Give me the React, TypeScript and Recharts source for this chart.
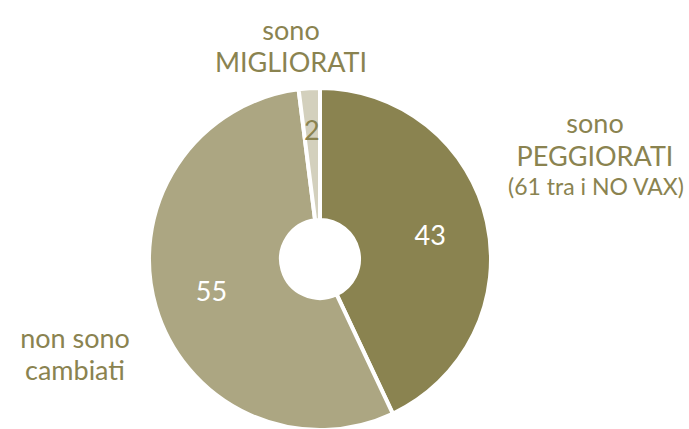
import { PieChart, Pie, Cell } from 'recharts';

const categories = ['sono PEGGIORATI', 'non sono cambiati', 'sono MIGLIORATI'];
const values = [43, 55, 2];
const COLORS = ['#8a8350', '#aca682', '#d3d0bd'];
const LABEL_COLORS = ['#ffffff', '#ffffff', '#8a8350'];
const TEXT = '#8a8350';
const FONT = 'Lato, "Open Sans", sans-serif';

const data = categories.map((name, i) => ({ name, value: values[i] }));

const RADIAN = Math.PI / 180;

const renderLabel = (props: any) => {
  const { cx, cy, midAngle, index, value } = props;
  const r = index === 2 ? 130 : 113;
  const x = cx + r * Math.cos(-midAngle * RADIAN);
  const y = cy + r * Math.sin(-midAngle * RADIAN);
  return (
    <text
      x={x}
      y={y}
      fill={LABEL_COLORS[index]}
      textAnchor="middle"
      dominantBaseline="central"
      fontSize={27}
      fontWeight={400}
      fontFamily={FONT}
    >
      {value}
    </text>
  );
};

export default function App() {
  return (
    <div style={{ position: 'absolute', left: 0, top: 0, width: 689, height: 429, background: '#fff' }}>
      <PieChart width={689} height={429}>
        <Pie
          data={data}
          dataKey="value"
          cx={315}
          cy={254}
          innerRadius={39}
          outerRadius={171}
          startAngle={90}
          endAngle={-270}
          stroke="#ffffff"
          strokeWidth={4}
          labelLine={false}
          label={renderLabel}
          isAnimationActive={false}
        >
          {data.map((entry, index) => (
            <Cell key={`cell-${index}`} fill={COLORS[index]} />
          ))}
        </Pie>
        <g fontFamily={FONT} fontWeight={400} fill={TEXT}>
          <text x={291} y={40} textAnchor="middle" fontSize={27}>sono</text>
          <text x={291} y={72} textAnchor="middle" fontSize={27}>MIGLIORATI</text>
          <text x={595} y={133} textAnchor="middle" fontSize={27}>sono</text>
          <text x={595} y={166} textAnchor="middle" fontSize={27}>PEGGIORATI</text>
          <text x={596} y={195} textAnchor="middle" fontSize={23}>(61 tra i NO VAX)</text>
          <text x={75} y={348} textAnchor="middle" fontSize={27}>non sono</text>
          <text x={75} y={380} textAnchor="middle" fontSize={27}>cambiati</text>
        </g>
      </PieChart>
    </div>
  );
}
